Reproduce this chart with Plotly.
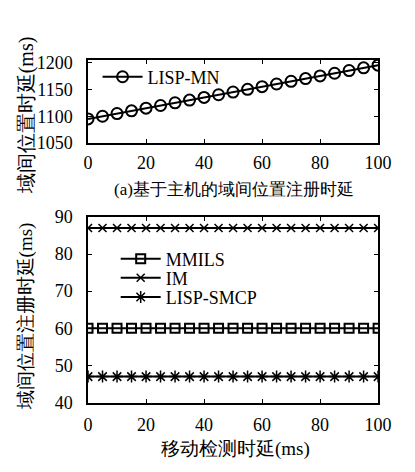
import plotly.graph_objects as go

x_vals = list(range(0, 101, 5))
lisp_mn = [1095 + v for v in x_vals]
mmils = [60] * len(x_vals)
im = [87] * len(x_vals)
lisp_smcp = [47] * len(x_vals)

top_title = "(a)基于主机的域间位置注册时延"
top_ytitle = "域间位置时延(ms)"
bot_ytitle = "域间位置注册时延(ms)"
bot_xtitle = "移动检测时延(ms)"

FONT = "Liberation Serif, serif"
W, H = 415, 472

def px(v): return v / W
def py(v): return 1 - v / H

fig = go.Figure()
line = dict(color="black", width=2)
fig.add_trace(go.Scatter(x=x_vals, y=lisp_mn, name="LISP-MN", mode="lines+markers",
                         line=line, marker=dict(symbol="circle-open", size=11, color="black",
                                                line=dict(width=2, color="black")),
                         xaxis="x", yaxis="y", legend="legend"))
fig.add_trace(go.Scatter(x=x_vals, y=mmils, name="MMILS", mode="lines+markers",
                         line=line, marker=dict(symbol="square-open", size=9, color="black",
                                                line=dict(width=2, color="black")),
                         xaxis="x2", yaxis="y2", legend="legend2"))
fig.add_trace(go.Scatter(x=x_vals, y=im, name="IM", mode="lines+markers",
                         line=line, marker=dict(symbol="x-thin-open", size=8, color="black",
                                                line=dict(width=1.5, color="black")),
                         xaxis="x2", yaxis="y2", legend="legend3"))
fig.add_trace(go.Scatter(x=x_vals, y=lisp_smcp, name="LISP-SMCP", mode="lines+markers",
                         line=line, marker=dict(symbol="asterisk-open", size=10, color="black",
                                                line=dict(width=1.5, color="black")),
                         xaxis="x2", yaxis="y2", legend="legend4"))

ax_common = dict(showline=True, linecolor="black", linewidth=1.5, mirror="ticks",
                 ticks="inside", ticklen=4, tickcolor="black", showgrid=False, zeroline=False,
                 tickfont=dict(family=FONT, size=18, color="black"))

def leg(xp, yp):
    return dict(x=px(xp), y=py(yp), xanchor="left", yanchor="middle", bgcolor="rgba(0,0,0,0)",
                font=dict(family=FONT, size=18, color="black"), itemwidth=40)

def ann(text, xp, yp, size, angle=0):
    return dict(text=text, x=px(xp), y=py(yp), xref="paper", yref="paper", showarrow=False,
                xanchor="center", yanchor="middle", textangle=angle,
                font=dict(family=FONT, size=size, color="black"))

fig.update_layout(
    width=W, height=H, margin=dict(l=0, r=0, t=0, b=0),
    plot_bgcolor="white", paper_bgcolor="white",
    font=dict(family=FONT, color="black", size=18),
    xaxis=dict(domain=[px(87), px(391)], anchor="y", range=[0, 100], tickvals=[0, 20, 40, 60, 80, 100],
               ticklabelstandoff=3, **ax_common),
    yaxis=dict(domain=[py(139), py(52)], anchor="x", range=[1050, 1205], tickvals=[1050, 1100, 1150, 1200],
               ticklabelstandoff=10, **ax_common),
    xaxis2=dict(domain=[px(87), px(391)], anchor="y2", range=[0, 100], tickvals=[0, 20, 40, 60, 80, 100],
                ticklabelstandoff=5, **ax_common),
    yaxis2=dict(domain=[py(410), py(216)], anchor="x2", range=[40, 90], tickvals=[40, 50, 60, 70, 80, 90],
                ticklabelstandoff=10, **ax_common),
    legend=leg(97, 70),
    legend2=leg(116, 260),
    legend3=leg(116, 280),
    legend4=leg(116, 300),
    showlegend=True,
    annotations=[
        ann(top_title, 240, 187, 17),
        ann(bot_xtitle, 242, 458, 19),
        ann(top_ytitle, 22, 110, 20, -90),
        ann(bot_ytitle, 22, 320, 19, -90),
    ],
)

fig.write_html("out.html")
